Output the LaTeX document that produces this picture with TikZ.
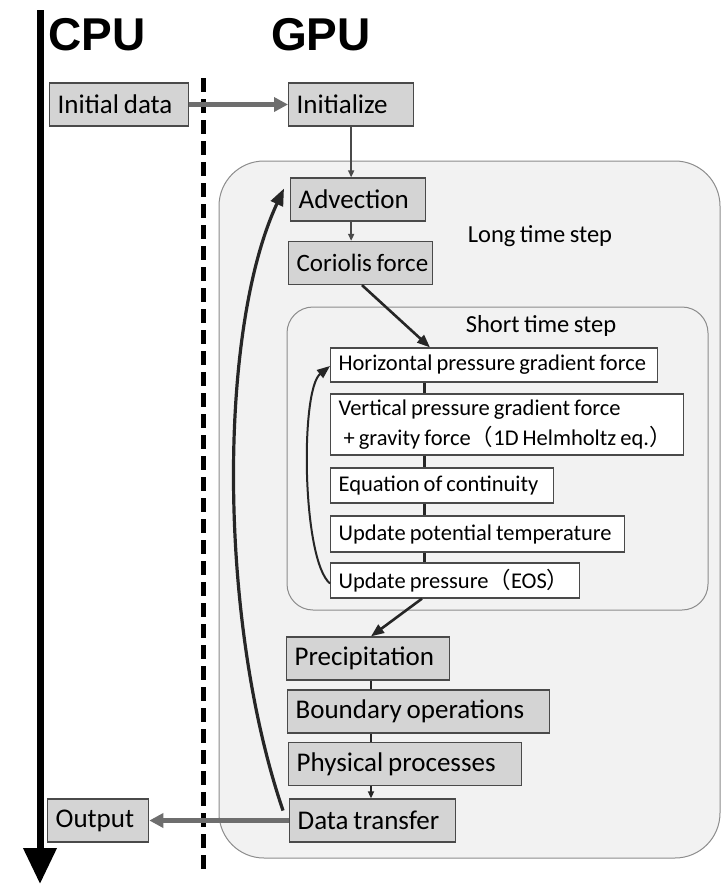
\documentclass[tikz,border=0pt]{standalone}
\usepackage{fontspec}
\setmainfont{Carlito}[WordSpace=0.8]
\newfontfamily\headfont{Liberation Sans}
\newfontfamily\cjk{Noto Sans CJK JP}
\usetikzlibrary{arrows.meta,calc}
\definecolor{boxfill}{HTML}{D4D4D4}
\definecolor{boxline}{HTML}{4A4A4A}
\definecolor{areafill}{HTML}{F2F2F2}
\definecolor{arealine}{HTML}{8C8C8C}
\definecolor{xfer}{HTML}{6E6E6E}
\newcommand\lft[2]{\makebox[#1][l]{#2}}
\begin{document}
\begin{tikzpicture}[x=1pt,y=-1pt,
  gbox/.style={draw=boxline, fill=boxfill, line width=1.3pt, inner xsep=8pt, inner ysep=0pt,
    minimum height=43pt, anchor=west, font=\fontsize{27}{30}\selectfont},
  wbox/.style={draw=boxline, fill=white, line width=1.2pt, inner xsep=8pt, inner ysep=0pt,
    anchor=west, align=left, font=\fontsize{22.5}{30}\selectfont},
  area/.style={draw=arealine, fill=areafill, line width=1pt},
  head/.style={font=\headfont\bfseries\fontsize{46}{50}\selectfont, anchor=base},
  lbl/.style={font=\fontsize{24.5}{28}\selectfont},
  smallarrow/.style={draw=boxline, line width=1.6pt, -{Triangle[length=7pt,width=6pt]}},
  link/.style={draw=black!85, line width=3pt},
  bigarrow/.style={draw=black!85, line width=2.6pt, -{Triangle[length=13pt,width=10pt]}},
  xferarrow/.style={draw=xfer, line width=4.5pt, -{Triangle[length=14pt,width=14pt]}}
]
\useasboundingbox (0,0) rectangle (721,884);

% headings
\node[head] (cpu) at (97,50) {CPU};
\node[head] (gpu) at (321,50) {GPU};

% timeline and separator
\coordinate (t0) at (40,10);
\coordinate (t1) at (40,884);
\draw[line width=7pt, -{Triangle[length=36pt,width=32pt]}] (t0) -- (t1);
\coordinate (d0) at (203,78);
\coordinate (d1) at (203,876);
\draw[line width=5pt, dash pattern=on 14pt off 7pt] (d0) -- (d1);

% regions
\draw[area, rounded corners=45pt] (219,161) rectangle (720,858);
\draw[area, rounded corners=26pt] (287,307) rectangle (708,610);
\node[lbl] (long) at (540,236) {Long time step};
\node[lbl] (short) at (541,326) {Short time step};

% gray boxes
\node[gbox] (init) at (49,104.5) {\lft{123pt}{Initial data}};
\node[gbox] (initz) at (288,104.5) {\lft{109pt}{Initialize}};
\node[gbox] (adv) at (290,199.5) {\lft{119pt}{Advection}};
\node[gbox] (cor) at (288,263) {\lft{128pt}{\fontsize{25}{30}\selectfont Coriolis force}};
\node[gbox] (pre) at (286,658.5) {\lft{147pt}{Precipitation}};
\node[gbox] (bnd) at (287,711.5) {\lft{246pt}{Boundary operations}};
\node[gbox] (phy) at (288,764) {\lft{217pt}{Physical processes}};
\node[gbox] (dat) at (289,820.5) {\lft{150pt}{Data transfer}};
\node[gbox] (out) at (47,820.5) {\lft{85pt}{Output}};

% white boxes
\node[wbox, minimum height=34pt] (hpg) at (330,365) {\lft{311pt}{Horizontal pressure gradient force}};
\node[wbox, minimum height=61pt] (vpg) at (330,424.5) {\lft{337pt}{Vertical pressure gradient force}\\\lft{337pt}{\hspace{5pt}+ gravity force{\cjk （}1D Helmholtz eq.{\cjk ）}}};
\node[wbox, minimum height=35pt] (eoc) at (330,485.5) {\lft{207pt}{Equation of continuity}};
\node[wbox, minimum height=36pt] (upt) at (330,534) {\lft{278pt}{Update potential temperature}};
\node[wbox, minimum height=35pt] (upr) at (330,580.5) {\lft{233pt}{Update pressure{\cjk （}EOS{\cjk ）}}};

% transfers
\draw[xferarrow] (init.east) -- (initz.west);
\draw[xferarrow] (dat.west) -- (out.east);

% GPU flow
\draw[smallarrow] (initz.south) -- (initz.south |- adv.north);
\draw[smallarrow] (initz.south |- adv.south) -- (initz.south |- cor.north);
\draw[bigarrow] ([xshift=74pt]cor.south west) -- ([xshift=100pt]hpg.north west);
\draw[link] ([xshift=94pt]hpg.south west) -- ([xshift=94pt]vpg.north west);
\draw[link] ([xshift=94pt]vpg.south west) -- ([xshift=94pt]eoc.north west);
\draw[link] ([xshift=94pt]eoc.south west) -- ([xshift=94pt]upt.north west);
\draw[link] ([xshift=94pt]upt.south west) -- ([xshift=94pt]upr.north west);
\draw[bigarrow, line width=2pt] ([yshift=-3pt]upr.west) .. controls (302,560) and (300,390) .. ([yshift=-1pt]hpg.west);
\draw[bigarrow] ([xshift=92pt]upr.south west) -- ([xshift=85pt]pre.north west);
\draw[link, line width=2pt] ([xshift=85pt]pre.south west) -- ([xshift=85pt]pre.south west |- bnd.north);
\draw[link, line width=2pt] ([xshift=85pt]pre.south west |- bnd.south) -- ([xshift=85pt]pre.south west |- phy.north);
\draw[smallarrow, draw=black!85] ([xshift=85pt]pre.south west |- phy.south) -- ([xshift=85pt]pre.south west |- dat.north);
\draw[bigarrow, line width=3.2pt, -{Triangle[length=17pt,width=13pt]}] ([xshift=-6pt,yshift=10pt]dat.west) .. controls (218,620) and (218,330) .. ([xshift=-6pt,yshift=11pt]adv.west);
\end{tikzpicture}
\end{document}
